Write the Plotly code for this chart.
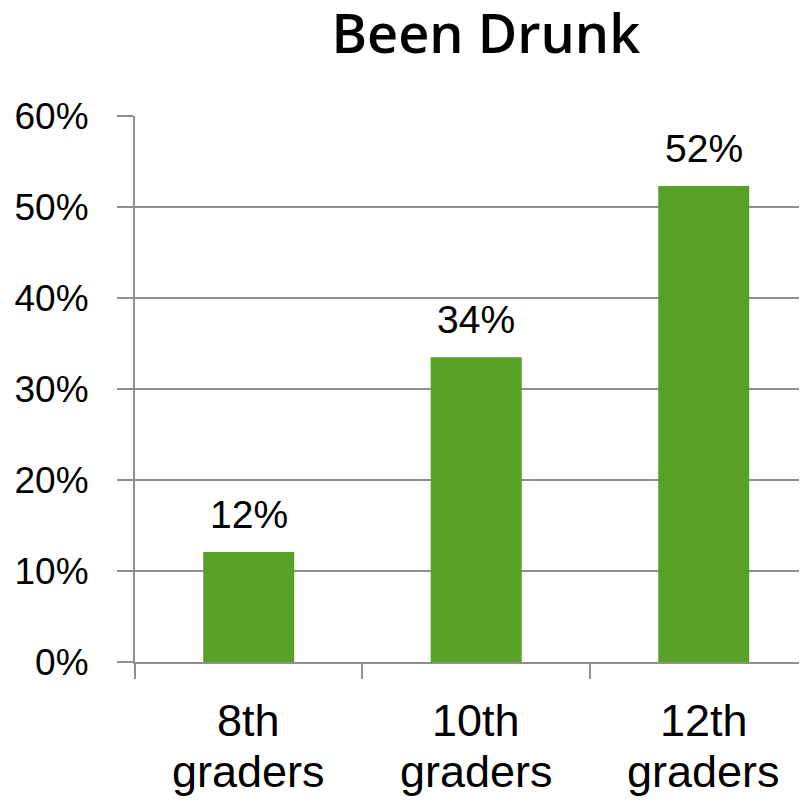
import plotly.graph_objects as go

categories = ["8th graders", "10th graders", "12th graders"]
values = [12.1, 33.5, 52.3]
value_labels = ["12%", "34%", "52%"]
y_ticks = [0, 10, 20, 30, 40, 50, 60]
y_tick_labels = ["0%", "10%", "20%", "30%", "40%", "50%", "60%"]

GRID = "#8e8e8e"
FONT = "Liberation Sans, Arial, sans-serif"

fig = go.Figure(go.Bar(
    x=categories, y=values, width=0.4,
    marker=dict(color="#56A126", line=dict(width=0)),
    hoverinfo="skip",
))

for cat, v, lab in zip(categories, values, value_labels):
    fig.add_annotation(x=cat, y=v, text=lab, showarrow=False,
                       yanchor="bottom", yshift=14,
                       font=dict(family=FONT, size=39, color="#000000"))
    first, second = cat.split(" ")
    fig.add_annotation(x=cat, y=0, text=first, showarrow=False,
                       yanchor="top", yshift=-31,
                       font=dict(family=FONT, size=45, color="#000000"))
    fig.add_annotation(x=cat, y=0, text=second, showarrow=False,
                       yanchor="top", yshift=-82,
                       font=dict(family=FONT, size=45, color="#000000"))

fig.update_layout(
    width=799, height=798,
    margin=dict(l=127, r=0, t=108, b=144),
    paper_bgcolor="white", plot_bgcolor="white",
    showlegend=False,
    title=dict(text="Been Drunk", x=0.598, xanchor="center",
               xref="container", y=0.967, yref="container", yanchor="middle",
               font=dict(family="Open Sans, sans-serif", size=54, weight=600,
                         color="#000000")),
)
fig.update_yaxes(
    range=[0, 60], tickvals=y_ticks, ticktext=y_tick_labels,
    showgrid=True, gridcolor=GRID, gridwidth=2,
    showline=True, linecolor=GRID, linewidth=2,
    ticks="outside", ticklen=16, tickcolor=GRID, tickwidth=2,
    tickfont=dict(family=FONT, size=37, color="#000000"),
    ticklabelstandoff=21, zeroline=False,
)
fig.update_xaxes(
    type="category", range=[-0.5, 2.454],
    showline=True, linecolor=GRID, linewidth=2,
    showgrid=False, zeroline=False, showticklabels=False,
    ticks="outside", ticklen=15, tickcolor=GRID, tickwidth=2,
    tickson="boundaries",
)
fig.write_html("out.html")
